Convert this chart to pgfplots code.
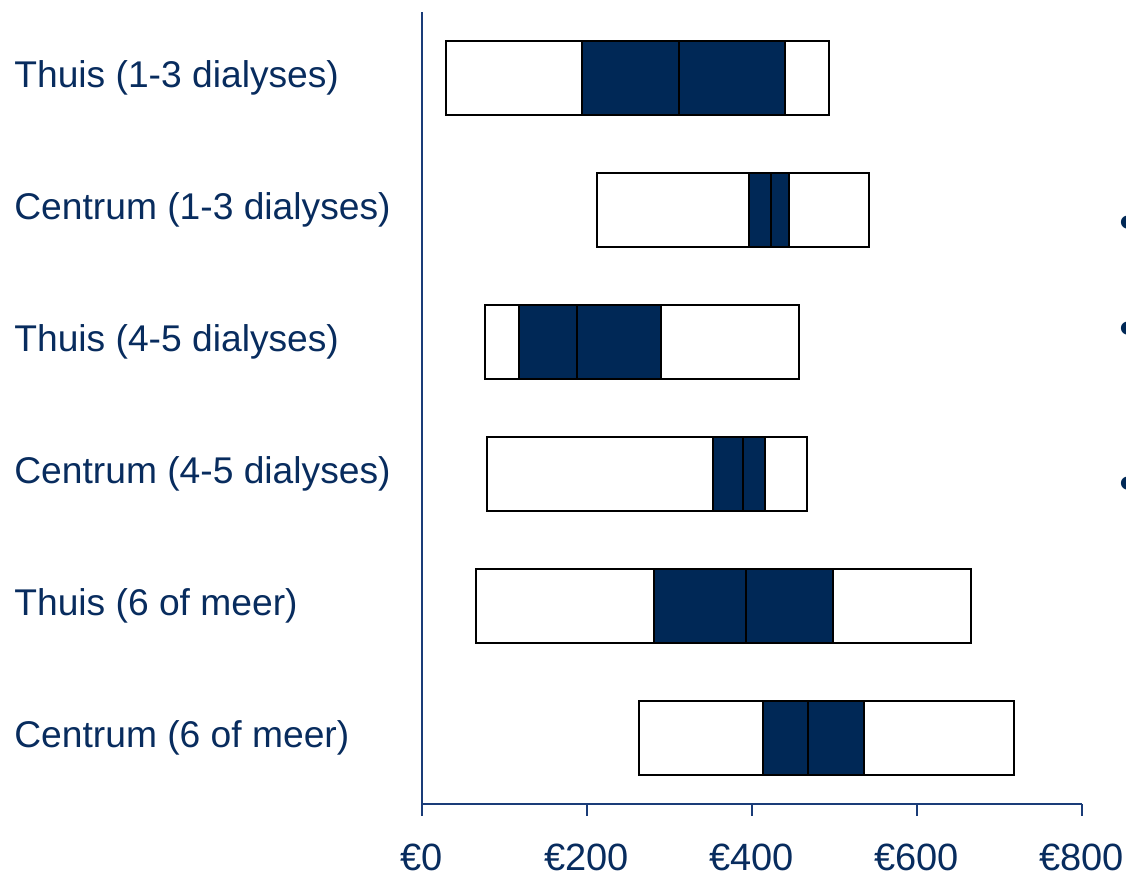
\documentclass[border=0pt]{standalone}
\usepackage{pgfplots}
\pgfplotsset{compat=1.18}
\usepgfplotslibrary{statistics}
\usepackage{fontspec}
\setmainfont{Liberation Sans}

\definecolor{navy}{RGB}{0,40,86}
\definecolor{labelblue}{RGB}{8,44,94}
\definecolor{axisblue}{RGB}{26,60,120}

% one row: white box over the full range, dark box over the middle band, median line
% #1 row, #2 min, #3 lower, #4 median, #5 upper, #6 max
\newcommand\rangebox[6]{%
  \addplot[draw=black, line width=1pt, fill=white,
    boxplot prepared={draw position=#1, box extend=0.559,
      lower whisker=#2, lower quartile=#2, median=#4,
      upper quartile=#6, upper whisker=#6}] coordinates {};
  \addplot[draw=black, line width=1pt, fill=navy,
    boxplot prepared={draw position=#1, box extend=0.559,
      lower whisker=#3, lower quartile=#3, median=#4,
      upper quartile=#5, upper whisker=#5}] coordinates {};
}

\begin{document}
\begin{tikzpicture}
\useasboundingbox (-210.85pt,-36pt) rectangle (352.15pt,402pt);
\begin{axis}[
  at={(0pt,0pt)}, anchor=south west,
  scale only axis, width=330pt, height=396pt,
  xmin=0, xmax=800, ymin=0.5, ymax=6.5, y dir=reverse,
  axis x line*=bottom, axis y line*=left,
  axis line style={axisblue, line width=1pt},
  xtick={0,200,400,600,800},
  xticklabels={€0,€200,€400,€600,€800},
  tick align=outside, major tick length=6pt,
  x tick style={axisblue, line width=1pt},
  xticklabel style={font=\fontsize{19}{22}\selectfont, text=labelblue,
    anchor=base, inner sep=0pt, yshift=-27.5pt},
  ytick={1,2,3,4,5,6},
  yticklabels={Thuis (1-3 dialyses), Centrum (1-3 dialyses),
    Thuis (4-5 dialyses), Centrum (4-5 dialyses),
    Thuis (6 of meer), Centrum (6 of meer)},
  y tick style={draw=none},
  yticklabel style={font=\fontsize{18.6}{22}\selectfont, text=labelblue,
    anchor=west, inner sep=0pt, xshift=-197.85pt},
  clip=false,
  boxplot/draw direction=x,
]
\rangebox{1}{29}{194}{312}{440}{494}
\rangebox{2}{213}{397}{423}{445}{542}
\rangebox{3}{77}{118}{188}{290}{457}
\rangebox{4}{79}{353}{389}{416}{467}
\rangebox{5}{66}{281}{393}{498}{666}
\rangebox{6}{264}{414}{468}{536}{718}
\end{axis}
% bullets of the neighbouring text column
\foreach \by in {288.5,235.5,158}
  \node[text=navy, font=\fontsize{24}{24}\selectfont, inner sep=0pt] at (352.9pt,\by pt) {•};
\end{tikzpicture}
\end{document}
